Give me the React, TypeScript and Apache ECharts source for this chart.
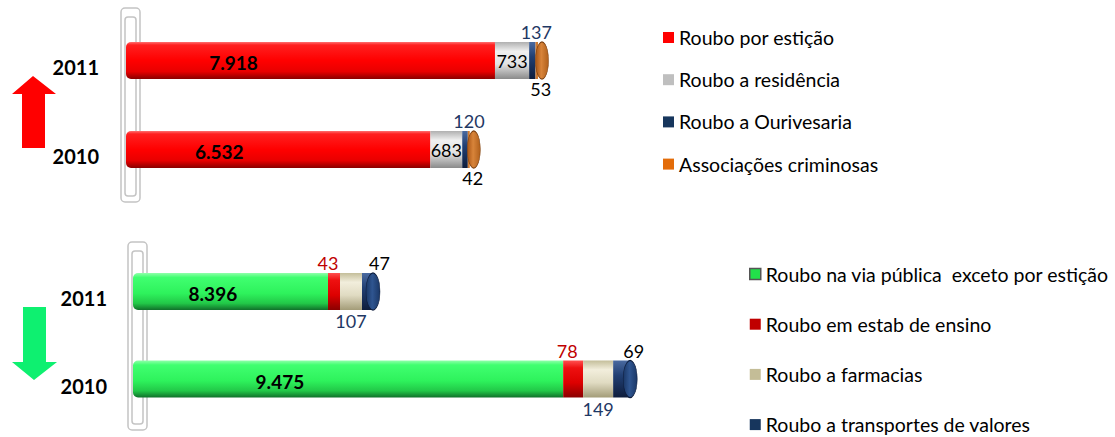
import React, { useEffect, useRef } from "react";
import * as echarts from "echarts";

// ---- data ----
const years = ["2010", "2011"];

// top panel (values as printed; bars drawn to scale)
const porEsticao = [6532, 7918];
const aResidencia = [683, 733];
const aOurivesaria = [120, 137];
const associacoes = [42, 53];

// bottom panel: values as printed in the labels
const viaPublica = [9475, 8396];
const estabEnsino = [78, 43];
const aFarmacias = [149, 107];
const transportesValores = [69, 47];

// bottom panel: segment lengths as drawn in the reference (not to scale with the printed values)
const viaPublicaDrawn = [9475, 4295];
const estabEnsinoDrawn = [440, 264];
const aFarmaciasDrawn = [661, 485];
const transportesDrawn = [375, 242];

const topNames = ["Roubo por estição", "Roubo a residência", "Roubo a Ourivesaria", "Associações criminosas"];
const bottomNames = [
  "Roubo na via pública  exceto por estição",
  "Roubo em estab de ensino",
  "Roubo a farmacias",
  "Roubo a transportes de valores",
];

const FONT = "Lato";

function thousands(n: number): string {
  return n >= 1000 ? `${Math.floor(n / 1000)}.${String(n % 1000).padStart(3, "0")}` : String(n);
}

const vgrad = (stops: [number, string][]) =>
  new echarts.graphic.LinearGradient(0, 0, 0, 1, stops.map(([offset, color]) => ({ offset, color })));
const hgrad = (stops: [number, string][]) =>
  new echarts.graphic.LinearGradient(0, 0, 1, 0, stops.map(([offset, color]) => ({ offset, color })));

const redCyl = vgrad([[0, "#ff7070"], [0.08, "#ff2020"], [0.5, "#ff0000"], [0.8, "#e80000"], [1, "#8a0000"]]);
const grayCyl = vgrad([[0, "#b0b0b0"], [0.25, "#f0f0f0"], [0.6, "#e2e2e2"], [1, "#8a8a8a"]]);
const navyCyl = vgrad([[0, "#4a6aa0"], [0.4, "#213f73"], [1, "#0e1d3c"]]);
const greenCyl = vgrad([[0, "#90ffaa"], [0.12, "#40ff70"], [0.55, "#2ef25c"], [0.82, "#22c848"], [1, "#10702a"]]);
const darkRedCyl = vgrad([[0, "#ff5050"], [0.2, "#ee1010"], [0.6, "#dd0000"], [1, "#8a0000"]]);
const beigeCyl = vgrad([[0, "#c4be9a"], [0.25, "#f2eedc"], [0.6, "#e0dbc2"], [1, "#a39c78"]]);
const orangeCap = hgrad([[0, "#a85414"], [0.45, "#d8843a"], [1, "#b0601c"]]);
const navyCap = hgrad([[0, "#1a3766"], [0.45, "#2f5590"], [1, "#1a3766"]]);

const numLabel = { fontFamily: FONT, fontSize: 18, color: "#000" };
const legendText = { fontFamily: FONT, fontSize: 19.5, color: "#000" };

export default function App() {
  const ref = useRef<HTMLDivElement>(null);

  useEffect(() => {
    if (!ref.current) return;
    const chart = echarts.init(ref.current, undefined, { renderer: "svg" });

    const topTotals = years.map((_, i) => porEsticao[i] + aResidencia[i] + aOurivesaria[i] + associacoes[i]);
    const bottomTotals = years.map(
      (_, i) => viaPublicaDrawn[i] + estabEnsinoDrawn[i] + aFarmaciasDrawn[i] + transportesDrawn[i]
    );

    const barBase = { type: "bar", barWidth: 37, z: 2 };

    const option: any = {
      animation: false,
      backgroundColor: "#ffffff",
      textStyle: { fontFamily: FONT },
      grid: [
        { left: 126, top: 16, width: 466, height: 178 },
        { left: 133, top: 247.75, width: 544.8, height: 175 },
      ],
      xAxis: [
        { gridIndex: 0, type: "value", min: 0, max: 10000, show: false },
        { gridIndex: 1, type: "value", min: 0, max: 12000, show: false },
      ],
      yAxis: [0, 1].map((g) => ({
        gridIndex: g,
        type: "category",
        data: years,
        axisLine: { show: false },
        axisTick: { show: false },
        splitLine: { show: false },
        axisLabel: {
          fontFamily: FONT,
          fontWeight: "bold",
          fontSize: 20,
          color: "#000",
          margin: g === 0 ? 27 : 26,
          verticalAlign: "top",
          lineHeight: 13,
        },
      })),
      legend: [
        {
          data: [
            { name: topNames[0], itemStyle: { color: "#ff0000" } },
            { name: topNames[1], itemStyle: { color: "#bfbfbf" } },
            { name: topNames[2], itemStyle: { color: "#17365d" } },
            { name: topNames[3], itemStyle: { color: "#e36c09" } },
          ],
          orient: "vertical",
          left: 663,
          top: 27.5,
          padding: 0,
          icon: "rect",
          itemWidth: 11,
          itemHeight: 11,
          itemGap: 22.2,
          height: 200,
          selectedMode: false,
          textStyle: legendText,
        },
        {
          data: [
            { name: bottomNames[0], itemStyle: { color: "#22e04a", borderColor: "#555555", borderWidth: 1.5 } },
            { name: bottomNames[1], itemStyle: { color: "#c00000" } },
            { name: bottomNames[2], itemStyle: { color: "#c4bd97" } },
            { name: bottomNames[3], itemStyle: { color: "#17365d" } },
          ],
          orient: "vertical",
          left: 749,
          top: 264,
          padding: 0,
          icon: "rect",
          itemWidth: 11,
          itemHeight: 11,
          itemGap: 30.2,
          height: 172,
          selectedMode: false,
          textStyle: legendText,
        },
      ],
      graphic: [
        // top panel "wall"
        { type: "rect", z: -1, shape: { x: 121, y: 8, width: 19, height: 194, r: 4 }, style: { fill: "#ffffff", stroke: "#c4c4c4", lineWidth: 1.5 } },
        { type: "rect", z: -1, shape: { x: 125, y: 17, width: 11, height: 179, r: 3 }, style: { fill: "none", stroke: "#c4c4c4", lineWidth: 1.5 } },
        // bottom panel "wall"
        { type: "rect", z: -1, shape: { x: 128, y: 242, width: 19, height: 188, r: 4 }, style: { fill: "#ffffff", stroke: "#c4c4c4", lineWidth: 1.5 } },
        { type: "rect", z: -1, shape: { x: 132, y: 251, width: 11, height: 173, r: 3 }, style: { fill: "none", stroke: "#c4c4c4", lineWidth: 1.5 } },
        // red up arrow
        {
          type: "polygon",
          shape: { points: [[22, 148], [45, 148], [45, 94], [56, 94], [33, 76], [12, 94], [22, 94]] },
          style: { fill: "#ff0000" },
        },
        // green down arrow
        {
          type: "polygon",
          shape: { points: [[23, 307], [46, 307], [46, 362], [57, 362], [34, 380], [12, 362], [23, 362]] },
          style: { fill: "#0ef070" },
        },
      ],
      series: [
        // ---- top panel ----
        {
          ...barBase,
          name: topNames[0],
          stack: "top",
          xAxisIndex: 0,
          yAxisIndex: 0,
          data: porEsticao,
          itemStyle: { color: redCyl, borderRadius: [5, 0, 0, 5] },
          label: {
            show: true,
            position: ["22%", "50%"],
            align: "left",
            verticalAlign: "middle",
            offset: [2, 2],
            fontFamily: FONT,
            fontSize: 19,
            fontWeight: "bold",
            color: "#000",
            formatter: (p: any) => thousands(porEsticao[p.dataIndex]),
          },
        },
        {
          ...barBase,
          name: topNames[1],
          stack: "top",
          xAxisIndex: 0,
          yAxisIndex: 0,
          data: aResidencia,
          itemStyle: { color: grayCyl },
          label: { show: true, position: "inside", ...numLabel, formatter: (p: any) => thousands(aResidencia[p.dataIndex]) },
        },
        {
          ...barBase,
          name: topNames[2],
          stack: "top",
          xAxisIndex: 0,
          yAxisIndex: 0,
          data: aOurivesaria,
          itemStyle: { color: navyCyl },
          label: {
            show: true,
            position: "top",
            distance: 1,
            offset: [4, 0],
            ...numLabel,
            color: "#1f3864",
            formatter: (p: any) => thousands(aOurivesaria[p.dataIndex]),
          },
        },
        {
          ...barBase,
          name: topNames[3],
          stack: "top",
          xAxisIndex: 0,
          yAxisIndex: 0,
          data: associacoes,
          itemStyle: { color: "#d07a30" },
          label: {
            show: true,
            position: "bottom",
            distance: 1,
            offset: [4, 0],
            ...numLabel,
            formatter: (p: any) => thousands(associacoes[p.dataIndex]),
          },
        },
        {
          type: "scatter",
          name: "capTop",
          xAxisIndex: 0,
          yAxisIndex: 0,
          z: 5,
          silent: true,
          symbol: "circle",
          symbolSize: [13, 37],
          symbolOffset: [4, 0],
          itemStyle: { color: orangeCap, borderColor: "#7a3c0a", borderWidth: 0.8, opacity: 1 },
          data: years.map((y, i) => [topTotals[i], y]),
        },
        // ---- bottom panel ----
        {
          ...barBase,
          name: bottomNames[0],
          stack: "bottom",
          xAxisIndex: 1,
          yAxisIndex: 1,
          data: viaPublicaDrawn,
          itemStyle: { color: greenCyl, borderRadius: [5, 0, 0, 5] },
          label: {
            show: true,
            position: ["28.5%", "50%"],
            align: "left",
            verticalAlign: "middle",
            offset: [0, 2],
            fontFamily: FONT,
            fontSize: 19,
            fontWeight: "bold",
            color: "#000",
            formatter: (p: any) => thousands(viaPublica[p.dataIndex]),
          },
        },
        {
          ...barBase,
          name: bottomNames[1],
          stack: "bottom",
          xAxisIndex: 1,
          yAxisIndex: 1,
          data: estabEnsinoDrawn,
          itemStyle: { color: darkRedCyl },
          label: {
            show: true,
            position: "top",
            distance: 1,
            offset: [-6, 0],
            ...numLabel,
            color: "#c00000",
            formatter: (p: any) => thousands(estabEnsino[p.dataIndex]),
          },
        },
        {
          ...barBase,
          name: bottomNames[2],
          stack: "bottom",
          xAxisIndex: 1,
          yAxisIndex: 1,
          data: aFarmaciasDrawn,
          itemStyle: { color: beigeCyl },
          label: {
            show: true,
            position: "bottom",
            distance: 2,
            ...numLabel,
            color: "#1f3864",
            formatter: (p: any) => thousands(aFarmacias[p.dataIndex]),
          },
        },
        {
          ...barBase,
          name: bottomNames[3],
          stack: "bottom",
          xAxisIndex: 1,
          yAxisIndex: 1,
          data: transportesDrawn,
          itemStyle: { color: navyCyl },
          label: {
            show: true,
            position: "top",
            distance: 1,
            offset: [12, 0],
            ...numLabel,
            formatter: (p: any) => thousands(transportesValores[p.dataIndex]),
          },
        },
        {
          type: "scatter",
          name: "capBottom",
          xAxisIndex: 1,
          yAxisIndex: 1,
          z: 5,
          silent: true,
          symbol: "circle",
          symbolSize: [14, 37],
          itemStyle: { color: navyCap, borderColor: "#0e1d3c", borderWidth: 0.8, opacity: 1 },
          data: years.map((y, i) => [bottomTotals[i], y]),
        },
      ],
    };

    chart.setOption(option);
    return () => chart.dispose();
  }, []);

  return (
    <div
      ref={ref}
      style={{ position: "fixed", left: 0, top: 0, width: 1115, height: 437, background: "#ffffff" }}
    />
  );
}
